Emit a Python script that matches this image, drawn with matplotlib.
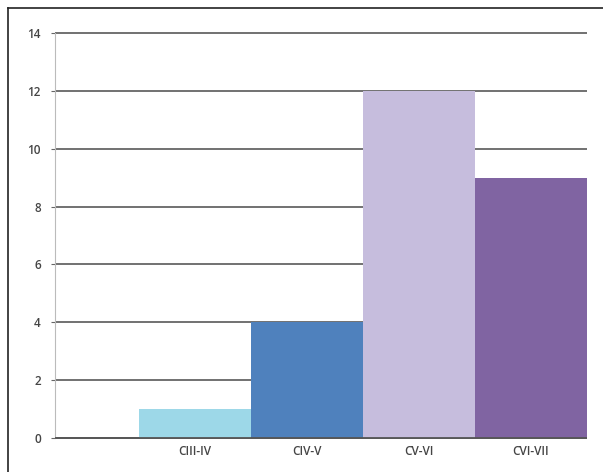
import matplotlib.pyplot as plt
from matplotlib.lines import Line2D

plt.rcParams["font.family"] = ["Open Sans", "DejaVu Sans"]

# Segment values
categories = ["CIII-IV", "CIV-V", "CV-VI", "CVI-VII"]
values = [1, 4, 12, 9]
colors = ["#9DD8E8", "#4F81BD", "#C6BDDD", "#8064A2"]

fig = plt.figure(figsize=(6.03, 4.72), dpi=100)
ax = fig.add_axes([0.091, 0.072, 0.882, 0.858])

x = range(len(categories))
ax.bar(x, values, width=1.0, color=colors, zorder=2)

ax.set_xlim(-1.25, 3.5)
ax.set_ylim(0, 14)
ax.set_yticks(range(0, 15, 2))
ax.set_xticks(list(x))
ax.set_xticklabels(categories)

# horizontal gridlines behind the bars
ax.yaxis.grid(True, color="#666666", linewidth=1.3, zorder=0)
for gl in ax.get_ygridlines():
    gl.set_clip_on(False)
    gl.set_solid_capstyle("butt")
ax.set_axisbelow(True)

for side in ["top", "right"]:
    ax.spines[side].set_visible(False)
ax.spines["left"].set_color("#bbbbbb")
ax.spines["bottom"].set_color("#555555")
ax.spines["bottom"].set_linewidth(1.3)
ax.spines["bottom"].set_capstyle("butt")

ax.tick_params(axis="x", length=0, pad=5, labelsize=8.5, labelcolor="#454545")
ax.tick_params(axis="y", length=3, color="#666666", pad=7, labelsize=8.5,
               labelcolor="#454545")
for lbl in ax.get_xticklabels() + ax.get_yticklabels():
    lbl.set_fontweight("semibold")

# frame on the left and top of the figure
fig.add_artist(Line2D([0.0135, 0.0135], [0, 0.983], color="#222222", linewidth=1.2))
fig.add_artist(Line2D([0.0135, 1], [0.983, 0.983], color="#222222", linewidth=1.2))

fig.savefig("out.png", dpi=100)
